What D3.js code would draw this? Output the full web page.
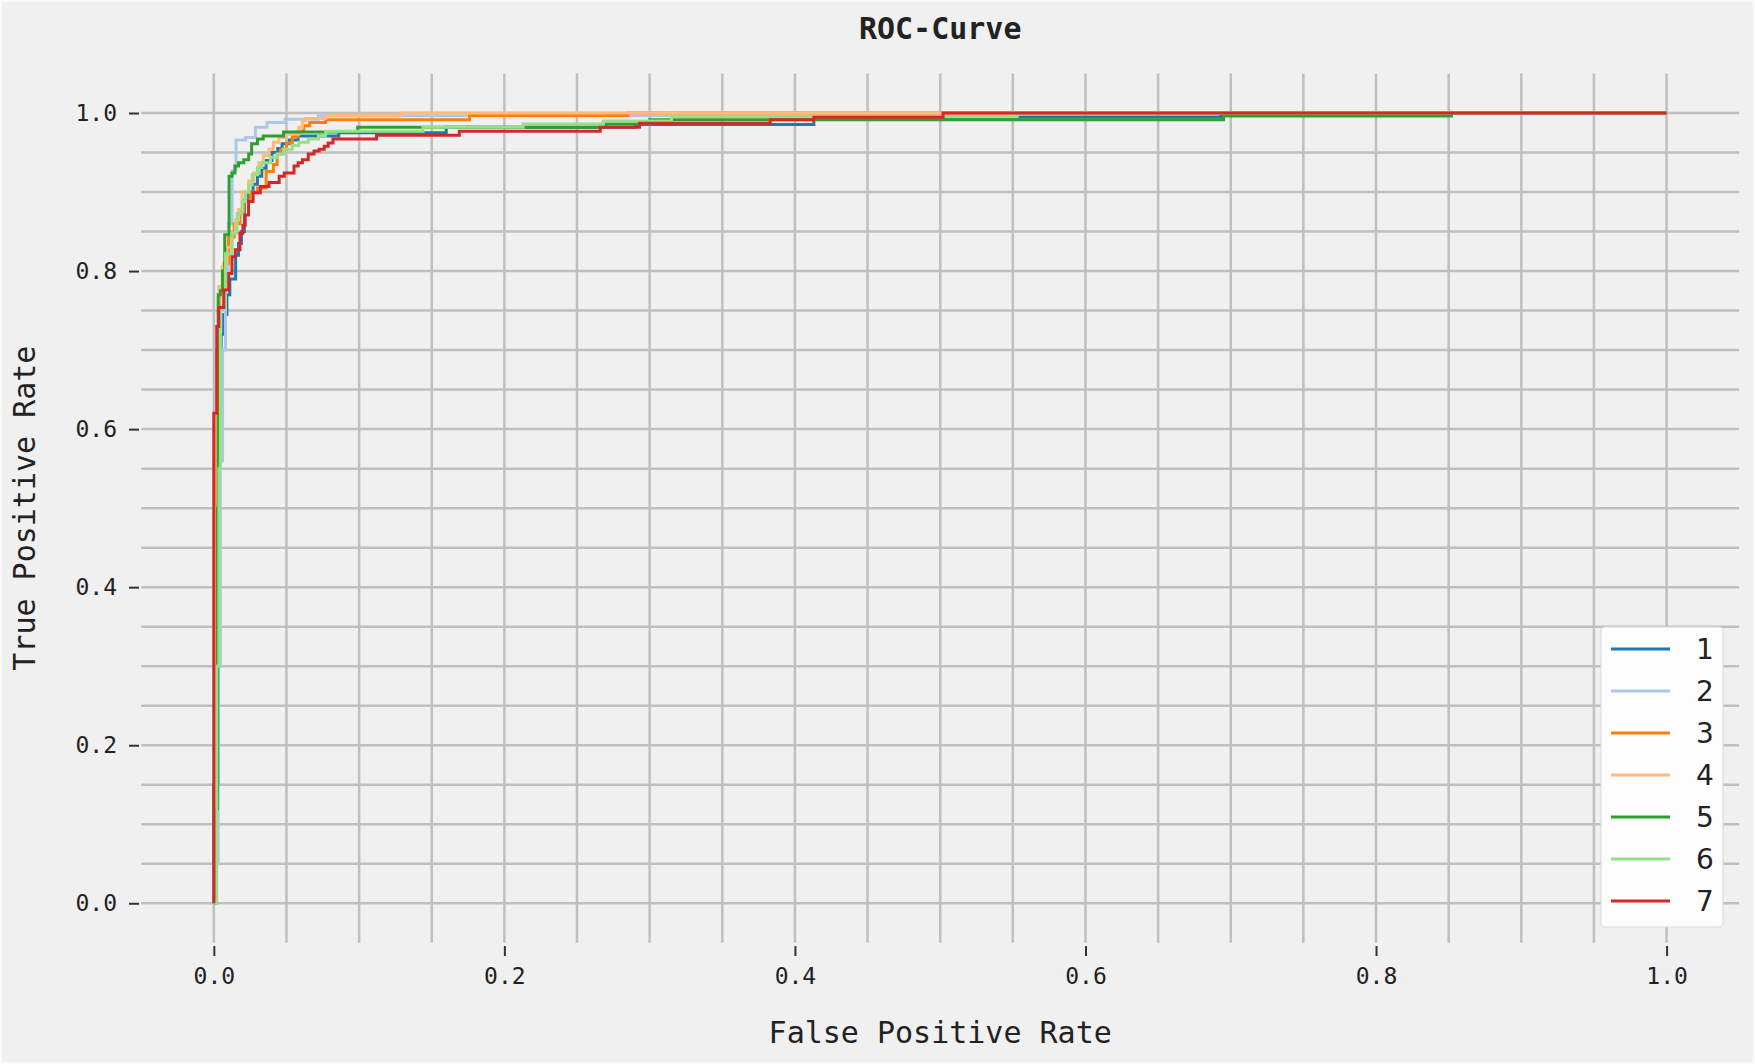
<!DOCTYPE html>
<html>
<head>
<meta charset="utf-8">
<script src="https://cdn.jsdelivr.net/npm/d3@7"></script>
<style>
	body { margin: 0; background: #fafafa; }
	svg { display: block; }
	.tick text { fill: #222; }
</style>
</head>
<body>
<svg id="chart" width="1755" height="1064"></svg>
<script>
// class labels, in legend order
const labels = ["1", "2", "3", "4", "5", "6", "7"];

// roc points (fpr, tpr), one pair of arrays per class
const fpr1 = [0, 0, 0.003, 0.005, 0.0068, 0.009, 0.011, 0.015, 0.017, 0.019, 0.021, 0.024, 0.027, 0.030, 0.033, 0.036, 0.040, 0.044, 0.047, 0.052, 0.058, 0.086, 0.16, 0.29, 0.413, 0.693, 1.0];
const tpr1 = [0, 0.15, 0.70, 0.72, 0.745, 0.77, 0.79, 0.82, 0.835, 0.85, 0.89, 0.90, 0.91, 0.92, 0.93, 0.94, 0.95, 0.955, 0.961, 0.966, 0.971, 0.975, 0.982, 0.9855, 0.995, 1.0, 1.0];

const fpr2 = [0, 0, 0.003, 0.0045, 0.006, 0.008, 0.010, 0.0126, 0.0153, 0.0217, 0.0286, 0.0366, 0.049, 0.072, 0.314, 1.0];
const tpr2 = [0, 0.05, 0.30, 0.56, 0.70, 0.80, 0.86, 0.927, 0.966, 0.969, 0.982, 0.988, 0.992, 0.9966, 1.0, 1.0];

const fpr3 = [0, 0.001, 0.002, 0.004, 0.007, 0.0102, 0.014, 0.018, 0.0206, 0.025, 0.030, 0.036, 0.041, 0.0436, 0.046, 0.050, 0.054, 0.058, 0.062, 0.066, 0.077, 0.176, 0.285, 1.0];
const tpr3 = [0, 0.55, 0.70, 0.78, 0.81, 0.843, 0.86, 0.875, 0.888, 0.90, 0.905, 0.926, 0.935, 0.948, 0.954, 0.962, 0.97, 0.977, 0.984, 0.988, 0.9915, 0.9967, 1.0, 1.0];

const fpr4 = [0, 0.001, 0.002, 0.0035, 0.0057, 0.009, 0.0125, 0.015, 0.017, 0.0195, 0.024, 0.0275, 0.031, 0.034, 0.038, 0.041, 0.0447, 0.049, 0.0585, 0.061, 0.063, 0.077, 0.129, 1.0];
const tpr4 = [0, 0.5, 0.68, 0.78, 0.805, 0.83, 0.848, 0.865, 0.878, 0.9, 0.914, 0.924, 0.937, 0.946, 0.954, 0.963, 0.969, 0.973, 0.982, 0.99, 0.993, 0.9966, 1.0, 1.0];

const fpr5 = [0, 0.001, 0.0025, 0.003, 0.0045, 0.006, 0.0075, 0.0105, 0.0125, 0.0145, 0.017, 0.0206, 0.024, 0.026, 0.030, 0.034, 0.048, 0.099, 0.27, 0.30, 0.695, 0.852, 1.0];
const tpr5 = [0, 0.12, 0.5, 0.77, 0.775, 0.80, 0.846, 0.92, 0.924, 0.933, 0.937, 0.941, 0.948, 0.961, 0.967, 0.971, 0.976, 0.982, 0.986, 0.9916, 0.9962, 1.0, 1.0];

const fpr6 = [0, 0.002, 0.0035, 0.0045, 0.008, 0.0125, 0.016, 0.0195, 0.0218, 0.024, 0.0264, 0.030, 0.033, 0.039, 0.0436, 0.048, 0.054, 0.0585, 0.065, 0.072, 0.077, 0.144, 0.213, 0.268, 0.315, 0.553, 1.0];
const tpr6 = [0, 0.30, 0.55, 0.754, 0.822, 0.848, 0.873, 0.888, 0.90, 0.909, 0.922, 0.931, 0.937, 0.944, 0.948, 0.954, 0.959, 0.963, 0.967, 0.971, 0.977, 0.982, 0.986, 0.99, 0.9955, 1.0, 1.0];

const fpr7 = [0, 0, 0.002, 0.0034, 0.0068, 0.0102, 0.0125, 0.0148, 0.018, 0.020, 0.0216, 0.0239, 0.027, 0.032, 0.038, 0.045, 0.0485, 0.0552, 0.058, 0.061, 0.065, 0.069, 0.0725, 0.076, 0.0787, 0.082, 0.112, 0.169, 0.266, 0.293, 0.383, 0.413, 0.502, 1.0];
const tpr7 = [0, 0.62, 0.73, 0.754, 0.776, 0.797, 0.818, 0.827, 0.848, 0.858, 0.871, 0.888, 0.899, 0.907, 0.912, 0.92, 0.924, 0.933, 0.937, 0.941, 0.948, 0.952, 0.954, 0.958, 0.962, 0.967, 0.972, 0.977, 0.982, 0.987, 0.9916, 0.9945, 1.0, 1.0];

const tickValues = [0, 0.2, 0.4, 0.6, 0.8, 1.0];
const gridValues = d3.range(0, 1.0001, 0.05);

const allFpr = [fpr1, fpr2, fpr3, fpr4, fpr5, fpr6, fpr7];
const allTpr = [tpr1, tpr2, tpr3, tpr4, tpr5, tpr6, tpr7];
const series = labels.map((name, i) => ({
	name: name,
	points: allFpr[i].map((f, j) => [f, allTpr[i][j]])
}));

const width = 1755;
const height = 1064;
const mono = "'DejaVu Sans Mono', 'Liberation Mono', monospace";

let svg = d3.select("#chart");

// figure background
svg.append("rect")
	.attr("x", 2).attr("y", 2)
	.attr("width", width - 4).attr("height", height - 4)
	.attr("fill", "#f0f0f0");

let x = d3.scaleLinear().domain([-0.05, 1.05]).range([141.2, 1739.2]);
let y = d3.scaleLinear().domain([-0.05, 1.05]).range([942.8, 73.5]);

let color = d3.scaleOrdinal()
	.domain(labels)
	.range(["#1f77b4", "#aec7e8", "#ff7f0e", "#ffbb78", "#2ca02c", "#98df8a", "#d62728"]);

// grid, every 0.05 on both axes
let grid = svg.append("g").attr("class", "grid")
	.attr("stroke", "#bfbfbf")
	.attr("stroke-width", 2.5);

grid.selectAll("line.h")
	.data(gridValues)
	.enter().append("line")
	.attr("class", "h")
	.attr("x1", x(-0.05)).attr("x2", x(1.05))
	.attr("y1", d => y(d)).attr("y2", d => y(d));

grid.selectAll("line.v")
	.data(gridValues)
	.enter().append("line")
	.attr("class", "v")
	.attr("y1", y(-0.05)).attr("y2", y(1.05))
	.attr("x1", d => x(d)).attr("x2", d => x(d));

// axes: no spine, ticks sit a little outside the plot area
let xAxis = d3.axisBottom(x)
	.tickValues(tickValues)
	.tickFormat(d3.format(".1f"))
	.tickSize(10)
	.tickPadding(12);

let yAxis = d3.axisLeft(y)
	.tickValues(tickValues)
	.tickFormat(d3.format(".1f"))
	.tickSize(10)
	.tickPadding(12);

let gx = svg.append("g")
	.attr("transform", "translate(0,946)")
	.call(xAxis);
let gy = svg.append("g")
	.attr("transform", "translate(139,0)")
	.call(yAxis);

[gx, gy].forEach(g => {
	g.select(".domain").remove();
	g.selectAll(".tick line").attr("stroke", "#333").attr("stroke-width", 2);
	g.selectAll(".tick text")
		.style("font-family", mono)
		.style("font-size", "23px");
});

// roc curves
let line = d3.line()
	.x(d => x(d[0]))
	.y(d => y(d[1]))
	.curve(d3.curveStepAfter);

svg.append("g").attr("class", "curves")
	.selectAll("path")
	.data(series)
	.enter().append("path")
	.attr("d", d => line(d.points))
	.attr("fill", "none")
	.attr("stroke", d => color(d.name))
	.attr("stroke-width", 3);

// titles
svg.append("text")
	.attr("x", x(0.5)).attr("y", 39)
	.attr("text-anchor", "middle")
	.style("font-family", mono)
	.style("font-weight", "bold")
	.style("font-size", "30px")
	.attr("fill", "#222")
	.text("ROC-Curve");

svg.append("text")
	.attr("x", x(0.5)).attr("y", 1043)
	.attr("text-anchor", "middle")
	.style("font-family", mono)
	.style("font-size", "30px")
	.attr("fill", "#222")
	.text("False Positive Rate");

svg.append("text")
	.attr("transform", "translate(35," + y(0.5) + ") rotate(-90)")
	.attr("text-anchor", "middle")
	.style("font-family", mono)
	.style("font-size", "30px")
	.attr("fill", "#222")
	.text("True Positive Rate");

// legend, lower right
let legend = svg.append("g").attr("transform", "translate(1601,627)");

legend.append("rect")
	.attr("width", 122).attr("height", 300)
	.attr("rx", 4)
	.attr("fill", "#fdfdfd")
	.attr("stroke", "#dcdcdc")
	.attr("stroke-width", 1.2);

let items = legend.selectAll("g.item")
	.data(labels)
	.enter().append("g")
	.attr("class", "item")
	.attr("transform", (d, i) => "translate(0," + (22 + i * 42) + ")");

items.append("line")
	.attr("x1", 10).attr("x2", 69)
	.attr("stroke", d => color(d))
	.attr("stroke-width", 3);

items.append("text")
	.attr("x", 95)
	.attr("dy", "0.36em")
	.style("font-family", "'DejaVu Sans', sans-serif")
	.style("font-size", "28px")
	.attr("fill", "#222")
	.text(d => d);
</script>
</body>
</html>
